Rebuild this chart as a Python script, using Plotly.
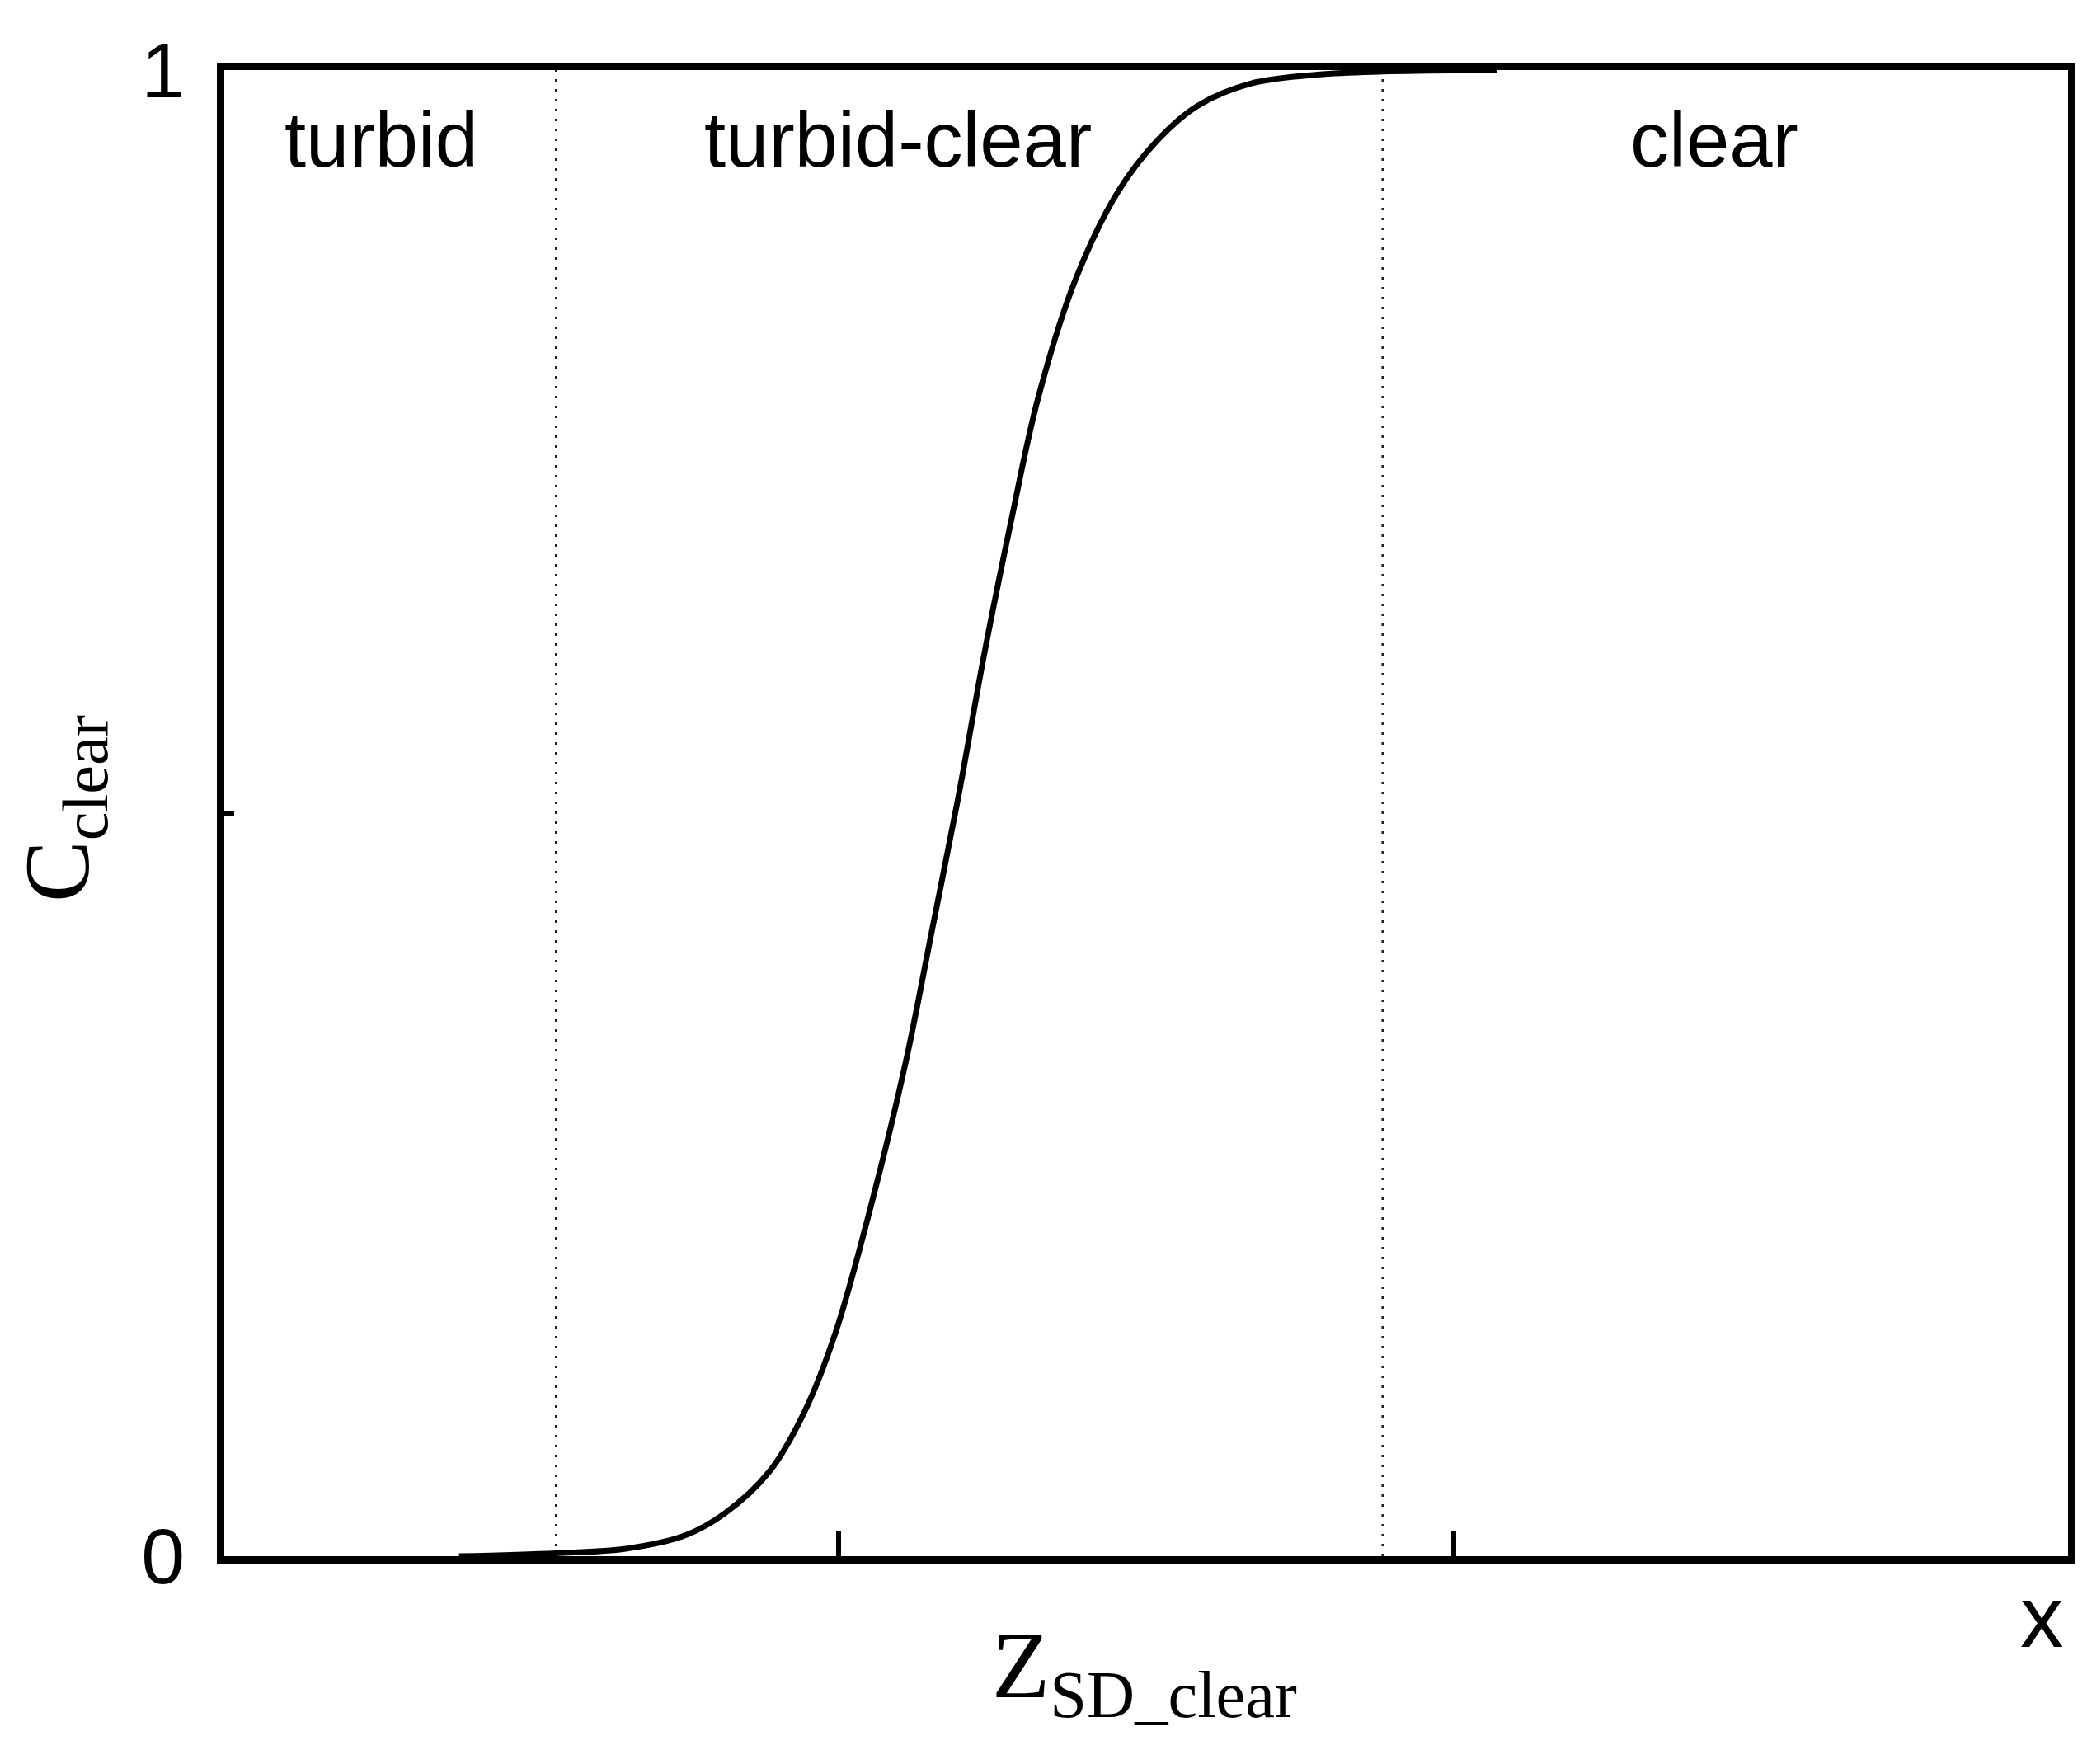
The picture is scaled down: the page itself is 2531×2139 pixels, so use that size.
import plotly.graph_objects as go

# Curve data (x in axis units 0..3, y = C_clear)
z_sd = [0.382, 0.540, 0.653, 0.750, 0.815, 0.887, 0.945, 0.995, 1.053, 1.108,
        1.151, 1.194, 1.237, 1.281, 1.324, 1.385, 1.454, 1.519, 1.584, 1.671,
        1.779, 1.885, 2.071]
c_clear = [0.0, 0.002, 0.005, 0.014, 0.029, 0.057, 0.098, 0.151, 0.237, 0.331,
           0.420, 0.510, 0.608, 0.698, 0.779, 0.859, 0.918, 0.953, 0.976, 0.991,
           0.997, 0.999, 1.0]

boundaries = [0.540, 1.885]
region_labels = ["turbid", "turbid-clear", "clear"]
region_x = [0.256, 1.096, 2.424]
region_y = 0.953

x_ticks = [1, 2]
y_ticks = [0, 0.5, 1]
y_ticktext = ["0", "", "1"]

fig = go.Figure()
fig.add_trace(go.Scatter(x=z_sd, y=c_clear, mode="lines",
                         line=dict(color="black", width=7, shape="spline"),
                         showlegend=False, hoverinfo="skip"))

for b in boundaries:
    fig.add_shape(type="line", xref="x", yref="paper", x0=b, x1=b, y0=0, y1=1,
                  line=dict(color="#222222", width=3, dash="3px,9px"), layer="below")

for lab, xx in zip(region_labels, region_x):
    fig.add_annotation(x=xx, y=region_y, xref="x", yref="y", text=lab,
                       showarrow=False, xanchor="center", yanchor="middle",
                       font=dict(family="Liberation Sans, Arial", size=94, color="black"))

# axis titles
fig.add_annotation(x=0.499, y=-0.078, xref="paper", yref="paper",
                   text="Z<sub>SD_clear</sub>", showarrow=False,
                   xanchor="center", yanchor="middle",
                   font=dict(family="Liberation Serif, Times New Roman", size=115, color="black"))
fig.add_annotation(x=-0.087, y=0.503, xref="paper", yref="paper",
                   text="C<sub>clear</sub>", showarrow=False, textangle=-90,
                   xanchor="center", yanchor="middle",
                   font=dict(family="Liberation Serif, Times New Roman", size=112, color="black"))
fig.add_annotation(x=0.986, y=-0.041, xref="paper", yref="paper",
                   text="x", showarrow=False, xanchor="center", yanchor="middle",
                   font=dict(family="Liberation Sans, Arial", size=105, color="black"))

fig.update_xaxes(range=[0, 3], showline=True, linewidth=9, linecolor="black",
                 mirror=True, showgrid=False, zeroline=False,
                 tickvals=x_ticks, ticktext=["", ""], ticks="inside",
                 ticklen=30, tickwidth=6, tickcolor="black")
fig.update_yaxes(range=[0, 1], showline=True, linewidth=9, linecolor="black",
                 mirror=True, showgrid=False, zeroline=False,
                 tickvals=y_ticks, ticktext=y_ticktext, ticks="inside",
                 ticklen=12, tickwidth=6, tickcolor="black", ticklabelstandoff=20,
                 tickfont=dict(family="Liberation Sans, Arial", size=95, color="black"))

# the page body adds an 8px margin, so the figure is made 8px smaller
fig.update_layout(width=2523, height=2131,
                  margin=dict(l=264, r=23, t=77, b=252),
                  paper_bgcolor="white", plot_bgcolor="white")

fig.write_html("out.html")
